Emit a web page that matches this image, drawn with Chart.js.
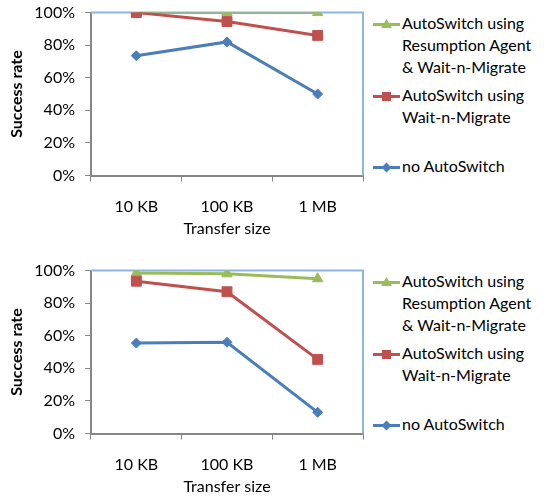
<!DOCTYPE html>
<html>
<head>
<meta charset="utf-8">
<script src="https://cdn.jsdelivr.net/npm/chart.js@4/dist/chart.umd.min.js"></script>
<style>
	body { margin: 0; background: #fff; width: 544px; height: 498px; overflow: hidden; font-family: Lato, "Open Sans", sans-serif; }
	.panel { position: absolute; left: 0; width: 544px; height: 249px; }
	.panel canvas { position: absolute; left: 0; top: -7px; }
	.legend { position: absolute; left: 373px; top: 0; font-size: 16px; line-height: 22px; color: #000; }
	.item { position: absolute; left: 0; white-space: nowrap; }
	.item .sym { position: absolute; left: 0; top: 9px; width: 27px; height: 3px; }
	.item .mk { position: absolute; left: 9px; }
	.item .txt { position: absolute; left: 29px; top: -2px; }
</style>
</head>
<body>
<div class="panel" id="p1" style="top:0px"><canvas id="chart1" width="371" height="249"></canvas><div class="legend" id="leg1"></div></div>
<div class="panel" id="p2" style="top:258px"><canvas id="chart2" width="371" height="249"></canvas><div class="legend" id="leg2"></div></div>
<script>
// transfer sizes on the x axis
const categories = ["10 KB", "100 KB", "1 MB"];
const yTicks = [0, 20, 40, 60, 80, 100];

// upper chart (success rate, %)
const topResumption = [100, 100, 100];
const topWaitMigrate = [100, 94.5, 86];
const topNoSwitch = [73.5, 82, 50];

// lower chart (success rate, %)
const bottomResumption = [98.5, 98, 95];
const bottomWaitMigrate = [93.5, 87, 45.5];
const bottomNoSwitch = [55.5, 56, 13];

const seriesNames = [
	["AutoSwitch using", "Resumption Agent", "& Wait-n-Migrate"],
	["AutoSwitch using", "Wait-n-Migrate"],
	["no AutoSwitch"]
];
const green = "#9bbb59";
const red = "#c0504d";
const blue = "#4a7ebb";

const fontFamily = "Lato, 'Open Sans', sans-serif";

// top and right edges of the plot area are drawn light blue
const frameplugin = {
	id: "frame",
	beforeDatasetsDraw(chart) {
		const a = chart.chartArea;
		const ctx = chart.ctx;
		ctx.save();
		ctx.strokeStyle = "#8eb4e3";
		ctx.lineWidth = 2;
		ctx.beginPath();
		ctx.moveTo(a.left, a.top);
		ctx.lineTo(a.right, a.top);
		ctx.lineTo(a.right, a.bottom);
		ctx.stroke();
		ctx.restore();
	}
};

function makeChart(id, resumption, waitMigrate, noSwitch) {
	const data = {
		labels: categories,
		datasets: [
			{
				label: seriesNames[2].join(" "),
				data: noSwitch,
				borderColor: blue,
				backgroundColor: blue,
				borderWidth: 3,
				pointStyle: "rectRot",
				pointRadius: 5,
				pointBorderWidth: 1,
			},
			{
				label: seriesNames[1].join(" "),
				data: waitMigrate,
				borderColor: red,
				backgroundColor: red,
				borderWidth: 3,
				pointStyle: "rect",
				pointRadius: 7,
				pointBorderWidth: 1,
			},
			{
				label: seriesNames[0].join(" "),
				data: resumption,
				borderColor: green,
				backgroundColor: green,
				borderWidth: 3,
				pointStyle: "triangle",
				pointRadius: 6,
				pointBorderWidth: 1,
			},
		],
	};
	return new Chart(document.getElementById(id), {
		type: "line",
		data: data,
		options: {
			responsive: false,
			animation: false,
			layout: { padding: { top: 4, right: 3, left: 0, bottom: 0 } },
			plugins: {
				legend: { display: false },
				tooltip: { enabled: false },
			},
			scales: {
				x: {
					offset: true,
					grid: { offset: true, drawOnChartArea: false, drawTicks: true, tickLength: 6, color: "#868686" },
					border: { display: true, color: "#868686", width: 2 },
					ticks: { color: "#000", padding: 16, font: { family: fontFamily, size: 16 } },
					title: { display: true, text: "Transfer size", color: "#000", padding: { top: 2, bottom: 4 }, font: { family: fontFamily, size: 16 } },
					afterFit: (scale) => { scale.height = 249 - 182.5; },
				},
				y: {
					min: 0,
					max: 100,
					afterBuildTicks: (scale) => { scale.ticks = yTicks.map((v) => ({ value: v })); },
					grid: { drawOnChartArea: false, drawTicks: true, tickLength: 6, color: "#868686" },
					border: { display: true, color: "#868686", width: 2 },
					ticks: { color: "#000", padding: 10, font: { family: fontFamily, size: 16 }, callback: (v) => v + "%" },
					title: { display: true, text: "Success rate", color: "#000", padding: { top: 7, bottom: 2 }, font: { family: fontFamily, size: 16, weight: "bold" } },
					afterFit: (scale) => { scale.width = 91; },
				},
			},
		},
		plugins: [frameplugin],
	});
}

function makeLegend(id) {
	const colors = [green, red, blue];
	const marks = ["tri", "sq", "dia"];
	const tops = [14, 86, 157];
	const el = document.getElementById(id);
	seriesNames.forEach((lines, i) => {
		const item = document.createElement("div");
		item.className = "item";
		item.style.top = tops[i] + "px";
		const sym = document.createElement("div");
		sym.className = "sym";
		sym.style.background = colors[i];
		item.appendChild(sym);
		const mk = document.createElement("div");
		mk.className = "mk";
		mk.style.background = colors[i];
		if (marks[i] === "tri") {
			mk.style.width = "11px"; mk.style.height = "9px"; mk.style.top = "5px"; mk.style.left = "8px";
			mk.style.clipPath = "polygon(50% 0, 100% 100%, 0 100%)";
		} else if (marks[i] === "sq") {
			mk.style.width = "9px"; mk.style.height = "9px"; mk.style.top = "6px";
		} else {
			mk.style.width = "7px"; mk.style.height = "7px"; mk.style.top = "7px"; mk.style.left = "10px";
			mk.style.transform = "rotate(45deg)";
		}
		item.appendChild(mk);
		const txt = document.createElement("div");
		txt.className = "txt";
		txt.innerHTML = lines.join("<br>");
		item.appendChild(txt);
		el.appendChild(item);
	});
}

makeChart("chart1", topResumption, topWaitMigrate, topNoSwitch);
makeChart("chart2", bottomResumption, bottomWaitMigrate, bottomNoSwitch);
makeLegend("leg1");
makeLegend("leg2");
</script>
</body>
</html>
